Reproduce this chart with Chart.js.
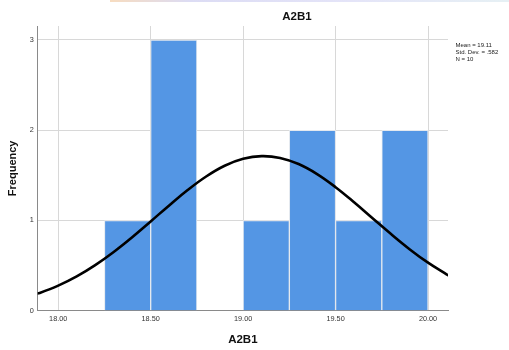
<!DOCTYPE html>
<html>
<head>
<meta charset="utf-8">
<script src="https://cdn.jsdelivr.net/npm/chart.js@4"></script>
<style>
  body { margin: 0; background: #fff; }
  #wrap { position: relative; width: 509px; height: 350px; }
  #strip { position: absolute; left: 110px; top: 0; width: 399px; height: 2px;
    background: linear-gradient(90deg, #f7dcc0, #dcdcf4 20%, #e4e4f8 60%, #e6f0f4); }
</style>
</head>
<body>
<div id="wrap">
  <canvas id="hist" width="509" height="350"></canvas>
  <div id="strip"></div>
</div>
<script>
// histogram bins (width .25) and counts
const binCenters = [18.375, 18.625, 18.875, 19.125, 19.375, 19.625, 19.875];
const frequencies = [1, 3, 0, 1, 2, 1, 2];

// normal curve
const curveX = [17.88, 17.9, 18.0, 18.1, 18.2, 18.3, 18.4, 18.5, 18.6, 18.7, 18.8, 18.9, 19.0,
    19.1, 19.2, 19.3, 19.4, 19.5, 19.6, 19.7, 19.8, 19.9, 20.0, 20.1, 20.11];
const curveY = [0.189, 0.197, 0.278, 0.380, 0.505, 0.651, 0.814, 0.989, 1.167, 1.337, 1.487, 1.606, 1.683,
    1.713, 1.693, 1.625, 1.514, 1.369, 1.202, 1.025, 0.849, 0.682, 0.532, 0.403, 0.392];

const xTicks = [18.0, 18.5, 19.0, 19.5, 20.0];
const yTicks = [0, 1, 2, 3];
const statLines = ["Mean = 19.11", "Std. Dev. = .582", "N = 10"];
const chartTitle = "A2B1";

const FONT = "'Liberation Sans', Arial, sans-serif";

// titulo e caixa de estatisticas
const textPlugin = {
    id: "textPlugin",
    afterDraw(chart) {
        const c = chart.ctx;
        c.save();
        c.fillStyle = "#111";
        c.font = "bold 11.5px " + FONT;
        c.textAlign = "center";
        c.textBaseline = "middle";
        c.fillText(chartTitle, 297, 17);
        c.font = "6px " + FONT;
        c.textAlign = "left";
        c.fillStyle = "#222";
        statLines.forEach((t, i) => c.fillText(t, 455.5, 45 + i * 7.3));
        c.restore();
    },
};

new Chart(document.getElementById("hist"), {
    type: "bar",
    data: {
        datasets: [
            {
                type: "line",
                data: curveX.map((x, i) => ({ x: x, y: curveY[i] })),
                borderColor: "#000",
                borderWidth: 2.6,
                pointRadius: 0,
                tension: 0.4,
                order: 0,
            },
            {
                data: binCenters.map((x, i) => ({ x: x, y: frequencies[i] })),
                backgroundColor: "rgb(84,150,228)",
                borderColor: "#e4e9ef",
                borderWidth: 1,
                barPercentage: 1,
                categoryPercentage: 1,
                order: 1,
            },
        ],
    },
    options: {
        responsive: false,
        animation: false,
        layout: { padding: { top: 26, right: 61, left: 0, bottom: 0 } },
        plugins: { legend: { display: false }, tooltip: { enabled: false }, title: { display: false } },
        scales: {
            x: {
                type: "linear",
                offset: false,
                min: 17.889,
                max: 20.108,
                afterBuildTicks: (s) => { s.ticks = xTicks.map((v) => ({ value: v })); },
                afterFit: (s) => { s.height = 39.3; },
                grid: { color: "#d8d8d8", drawTicks: false, offset: false },
                border: { color: "#8a8a8a" },
                ticks: {
                    padding: 4,
                    color: "#333",
                    font: { family: FONT, size: 7.3 },
                    maxRotation: 0,
                    callback: (v) => Number(v).toFixed(2),
                },
                title: {
                    display: true,
                    text: "A2B1",
                    color: "#111",
                    font: { family: FONT, size: 11.5, weight: "bold" },
                    padding: { top: 0, bottom: 3.4 },
                },
            },
            y: {
                min: 0,
                max: 3.155,
                afterBuildTicks: (s) => { s.ticks = yTicks.map((v) => ({ value: v })); },
                afterFit: (s) => { s.width = 37.7; },
                grid: { color: "#d8d8d8", drawTicks: false },
                border: { color: "#8a8a8a" },
                ticks: {
                    padding: 4,
                    color: "#333",
                    font: { family: FONT, size: 7.3 },
                },
                title: {
                    display: true,
                    text: "Frequency",
                    color: "#111",
                    font: { family: FONT, size: 11, weight: "bold" },
                    padding: { top: 6.4, bottom: 0 },
                },
            },
        },
    },
    plugins: [textPlugin],
});
</script>
</body>
</html>
